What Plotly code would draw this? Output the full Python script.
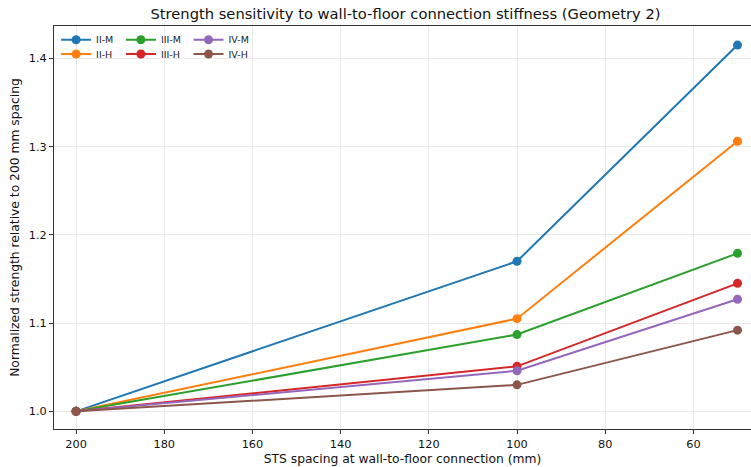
import plotly.graph_objects as go

spacing = [200, 100, 50]
series_names = ["II-M", "II-H", "III-M", "III-H", "IV-M", "IV-H"]
ii_m = [1.000, 1.170, 1.415]
ii_h = [1.000, 1.105, 1.306]
iii_m = [1.000, 1.087, 1.179]
iii_h = [1.000, 1.051, 1.145]
iv_m = [1.000, 1.046, 1.127]
iv_h = [1.000, 1.030, 1.092]
values = [ii_m, ii_h, iii_m, iii_h, iv_m, iv_h]
colors = ["#1f77b4", "#ff7f0e", "#2ca02c", "#d62728", "#9467bd", "#8c564b"]

# one legend box per entry: 3 columns x 2 rows, column-major like the reference
legend_ids = ["legend", "legend2", "legend3", "legend4", "legend5", "legend6"]
leg_col_x = [0.003, 0.003, 0.096, 0.096, 0.193, 0.193]
leg_row_y = [1 - (39.7 - 26) / 403, 1 - (54 - 26) / 403] * 3

fig = go.Figure()
for name, vals, col, lg in zip(series_names, values, colors, legend_ids):
    fig.add_trace(go.Scatter(
        x=spacing, y=vals, name=name, mode="lines+markers",
        line=dict(color=col, width=2),
        marker=dict(color=col, size=9),
        legend=lg,
    ))

font = "DejaVu Sans, sans-serif"
leg_common = dict(
    orientation="h", bgcolor="rgba(0,0,0,0)", borderwidth=0,
    font=dict(family=font, size=9.5, color="#222"),
    xanchor="left", yanchor="middle", itemwidth=30,
)
legends = {}
for lg, lx, ly in zip(legend_ids, leg_col_x, leg_row_y):
    legends[lg] = dict(x=lx, y=ly, **leg_common)

fig.update_layout(
    width=751, height=467,
    margin=dict(l=54, r=0, t=26, b=38, autoexpand=False),
    paper_bgcolor="white", plot_bgcolor="white",
    font=dict(family=font, color="#111"),
    title=dict(
        text="Strength sensitivity to wall-to-floor connection stiffness (Geometry 2)",
        x=0.54, xanchor="center", y=0.97, yanchor="middle",
        font=dict(family=font, size=14.7, color="#111"),
    ),
    showlegend=True,
    xaxis=dict(
        range=[205.0, 46.94],
        tickvals=[200, 180, 160, 140, 120, 100, 80, 60],
        ticktext=["200", "180", "160", "140", "120", "100", "80", "60"],
        showgrid=True, gridcolor="#e8e8e8", gridwidth=1,
        showline=True, linecolor="#333", linewidth=1, mirror=True,
        ticks="outside", ticklen=4, tickcolor="#333",
        tickfont=dict(family=font, size=11.3, color="#111"),
        zeroline=False, automargin=False,
        title=dict(text="STS spacing at wall-to-floor connection (mm)",
                   font=dict(family=font, size=12.3, color="#111"), standoff=4),
    ),
    yaxis=dict(
        range=[0.980, 1.4366],
        tickvals=[1.0, 1.1, 1.2, 1.3, 1.4],
        ticktext=["1.0", "1.1", "1.2", "1.3", "1.4"],
        showgrid=True, gridcolor="#e8e8e8", gridwidth=1,
        showline=True, linecolor="#333", linewidth=1, mirror=False,
        ticks="outside", ticklen=4, tickcolor="#333",
        tickfont=dict(family=font, size=11.3, color="#111"),
        zeroline=False, automargin=False,
        title=dict(text="Normalized strength relative to 200 mm spacing",
                   font=dict(family=font, size=12.3, color="#111"), standoff=6),
    ),
    **legends,
)

fig.write_html(
    "out.html",
    config={"displayModeBar": False},
    post_script="document.body.style.margin='0px';document.body.style.overflow='hidden';",
)
